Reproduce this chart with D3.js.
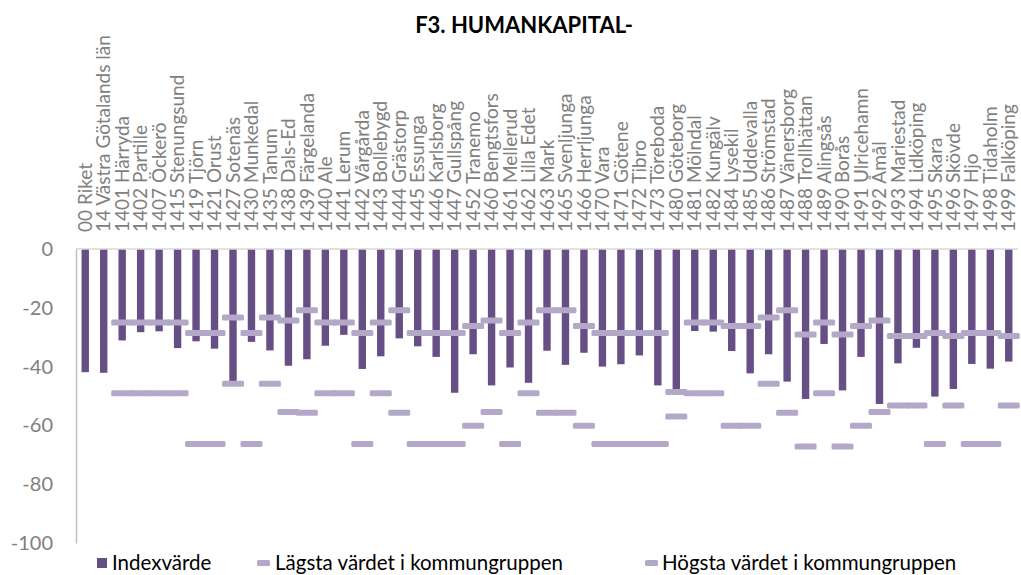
<!DOCTYPE html>
<html>
<head>
<meta charset="utf-8">
<script src="https://cdn.jsdelivr.net/npm/d3@7"></script>
<style>
  body { margin: 0; background: #fff; }
  svg { display: block; font-family: Lato, "Liberation Sans", sans-serif; }
</style>
</head>
<body>
<svg id="chart" width="1021" height="575"></svg>
<script>
// Categories (kommun codes + names)
const categories = [
  '00 Riket', '14 Västra Götalands län', '1401 Härryda', '1402 Partille', '1407 Öckerö',
  '1415 Stenungsund', '1419 Tjörn', '1421 Orust', '1427 Sotenäs', '1430 Munkedal',
  '1435 Tanum', '1438 Dals-Ed', '1439 Färgelanda', '1440 Ale', '1441 Lerum',
  '1442 Vårgårda', '1443 Bollebygd', '1444 Grästorp', '1445 Essunga', '1446 Karlsborg',
  '1447 Gullspång', '1452 Tranemo', '1460 Bengtsfors', '1461 Mellerud', '1462 Lilla Edet',
  '1463 Mark', '1465 Svenljunga', '1466 Herrljunga', '1470 Vara', '1471 Götene',
  '1472 Tibro', '1473 Töreboda', '1480 Göteborg', '1481 Mölndal', '1482 Kungälv',
  '1484 Lysekil', '1485 Uddevalla', '1486 Strömstad', '1487 Vänersborg', '1488 Trollhättan',
  '1489 Alingsås', '1490 Borås', '1491 Ulricehamn', '1492 Åmål', '1493 Mariestad',
  '1494 Lidköping', '1495 Skara', '1496 Skövde', '1497 Hjo', '1498 Tidaholm', '1499 Falköping'
];

// Indexvärde
const indexValues = [
  -41.9, -42.1, -31.1, -28.3, -28.0, -33.7, -31.4, -33.9, -45.6, -31.6,
  -34.5, -39.7, -37.5, -32.9, -29.2, -40.8, -36.5, -30.4, -33.1, -36.7,
  -48.9, -35.8, -46.4, -40.3, -45.5, -34.6, -39.4, -35.3, -40.0, -39.2,
  -36.2, -46.4, -48.3, -27.9, -28.1, -34.7, -42.3, -35.8, -45.1, -51.0,
  -32.3, -48.1, -36.7, -52.7, -38.9, -33.6, -50.2, -47.6, -39.1, -40.7, -38.3
];

// Lägsta värdet i kommungruppen
const lowValues = [
  null, null, -49.1, -49.1, -49.1, -49.1, -66.3, -66.3, -45.8, -66.3,
  -45.8, -55.4, -55.7, -49.1, -49.1, -66.3, -49.1, -55.7, -66.3, -66.3,
  -66.3, -60.1, -55.4, -66.3, -49.1, -55.7, -55.7, -60.1, -66.3, -66.3,
  -66.3, -66.3, -57.0, -49.1, -49.1, -60.1, -60.1, -45.8, -55.7, -67.2,
  -49.1, -67.2, -60.1, -55.4, -53.2, -53.2, -66.3, -53.2, -66.3, -66.3, -53.2
];

// Högsta värdet i kommungruppen
const highValues = [
  null, null, -25.0, -25.0, -25.0, -25.0, -28.6, -28.6, -23.3, -28.6,
  -23.3, -24.3, -20.8, -25.0, -25.0, -28.6, -25.0, -20.8, -28.6, -28.6,
  -28.6, -26.2, -24.3, -28.6, -25.0, -20.8, -20.8, -26.2, -28.6, -28.6,
  -28.6, -28.6, -48.6, -25.0, -25.0, -26.2, -26.2, -23.3, -20.8, -29.1,
  -25.0, -29.1, -26.2, -24.3, -29.6, -29.6, -28.6, -29.6, -28.6, -28.6, -29.6
];

const yTicks = [0, -20, -40, -60, -80, -100];

const BAR_COLOR = '#664f85';
const DASH_COLOR = '#b4a8c9';
const TEXT_GREY = '#808080';

const svg = d3.select('#chart');
const margin = { left: 76, right: 3, top: 249, bottom: 32 };
const width = 1021, height = 575;

const x = d3.scaleBand().domain(categories)
  .range([margin.left, width - margin.right])
  .paddingInner(0.6).paddingOuter(0.3);
const y = d3.scaleLinear().domain([-100, 0]).range([height - margin.bottom, margin.top]);

// Title
svg.append('text')
  .attr('x', 524).attr('y', 33)
  .attr('text-anchor', 'middle').attr('font-weight', 'bold')
  .attr('font-size', '22px').attr('fill', '#000')
  .text('F3. HUMANKAPITAL-');

// Y axis (plain hyphen for negatives, like the original)
const yAxis = d3.axisLeft(y).tickValues(yTicks).tickSize(0).tickPadding(23)
  .tickFormat(d => String(d));
const yg = svg.append('g').attr('transform', `translate(${margin.left},0)`).call(yAxis);
yg.select('.domain').attr('stroke', '#bfbfbf').attr('stroke-width', 1.5);
yg.selectAll('text').attr('fill', TEXT_GREY).attr('font-size', '20px').attr('font-family', 'Lato');

// Bars
svg.append('g').selectAll('rect')
  .data(categories)
  .join('rect')
  .attr('x', d => x(d))
  .attr('width', x.bandwidth())
  .attr('y', y(0))
  .attr('height', (d, i) => y(indexValues[i]) - y(0))
  .attr('fill', BAR_COLOR);

// Zero line (category axis)
svg.append('line')
  .attr('x1', margin.left).attr('x2', width - margin.right)
  .attr('y1', y(0)).attr('y2', y(0))
  .attr('stroke', '#d9d9d9').attr('stroke-width', 1.5);

// Group min / max dashes
const dashW = 22, dashH = 6;
function drawDashes(values) {
  svg.append('g').selectAll('rect')
    .data(categories.map((c, i) => ({ c, v: values[i] })).filter(d => d.v !== null))
    .join('rect')
    .attr('x', d => x(d.c) + x.bandwidth() / 2 - dashW / 2)
    .attr('y', d => y(d.v) - dashH / 2)
    .attr('width', dashW).attr('height', dashH)
    .attr('rx', 1.5)
    .attr('fill', DASH_COLOR);
}
drawDashes(lowValues);
drawDashes(highValues);

// Category labels (rotated, reading bottom-up)
svg.append('g').selectAll('text')
  .data(categories)
  .join('text')
  .attr('transform', d => `translate(${x(d) + x.bandwidth() / 2},232) rotate(-90)`)
  .attr('dy', '0.35em')
  .attr('text-anchor', 'start')
  .attr('fill', TEXT_GREY).attr('font-size', '19px')
  .text(d => d);

// Legend
const legend = svg.append('g').attr('font-size', '20.5px').attr('fill', '#000');
const ly = 563;
legend.append('rect').attr('x', 97).attr('y', ly - 5).attr('width', 10).attr('height', 10).attr('fill', BAR_COLOR);
legend.append('text').attr('x', 112).attr('y', ly).attr('dy', '0.35em').text('Indexvärde');
legend.append('rect').attr('x', 257).attr('y', ly - 3).attr('width', 13).attr('height', 6).attr('rx', 1.5).attr('fill', DASH_COLOR);
legend.append('text').attr('x', 275).attr('y', ly).attr('dy', '0.35em').text('Lägsta värdet i kommungruppen');
legend.append('rect').attr('x', 645).attr('y', ly - 3).attr('width', 13).attr('height', 6).attr('rx', 1.5).attr('fill', DASH_COLOR);
legend.append('text').attr('x', 662).attr('y', ly).attr('dy', '0.35em').text('Högsta värdet i kommungruppen');
</script>
</body>
</html>
